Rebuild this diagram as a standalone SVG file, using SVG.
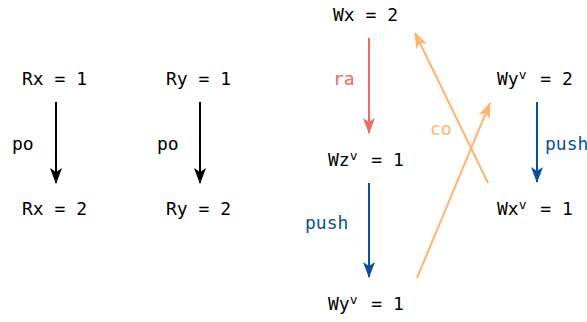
<svg xmlns="http://www.w3.org/2000/svg" width="587" height="322" viewBox="0 0 587 322">
<style>
text{font-family:"DejaVu Sans Mono","Liberation Mono",monospace;font-size:18px;fill:#000}
.red{fill:#ea6b66}.blue{fill:#0c4f9a}.orange{fill:#ffb570}
.e{fill:none;stroke-width:2}
.sup{font-size:13px}
</style>
<defs>
<marker id="ak" viewBox="0 0 16 12" refX="15" refY="6" markerWidth="16" markerHeight="12" markerUnits="userSpaceOnUse" orient="auto"><path d="M0,0 L16,6 L0,12 L4,6 Z" fill="#000"/></marker>
<marker id="ar" viewBox="0 0 16 12" refX="15" refY="6" markerWidth="16" markerHeight="12" markerUnits="userSpaceOnUse" orient="auto"><path d="M0,0 L16,6 L0,12 L4,6 Z" fill="#ea6b66"/></marker>
<marker id="ab" viewBox="0 0 16 12" refX="15" refY="6" markerWidth="16" markerHeight="12" markerUnits="userSpaceOnUse" orient="auto"><path d="M0,0 L16,6 L0,12 L4,6 Z" fill="#0c4f9a"/></marker>
<marker id="ao" viewBox="0 0 16 12" refX="15" refY="6" markerWidth="16" markerHeight="12" markerUnits="userSpaceOnUse" orient="auto"><path d="M0,0 L16,6 L0,12 L4,6 Z" fill="#ffb570"/></marker>
</defs>
<g id="connectors">
<path class="e" stroke="#000" d="M56,102 L56,183" marker-end="url(#ak)"/>
<path class="e" stroke="#000" d="M200,102 L200,183" marker-end="url(#ak)"/>
<path class="e" stroke="#ea6b66" d="M369,38 L369,133" marker-end="url(#ar)"/>
<path class="e" stroke="#0c4f9a" d="M369,183 L369,277" marker-end="url(#ab)"/>
<path class="e" stroke="#0c4f9a" d="M537,102 L537,182" marker-end="url(#ab)"/>
<path class="e" stroke="#ffb570" d="M488,183 L415,33" marker-end="url(#ao)"/>
<path class="e" stroke="#ffb570" d="M417,278 L490,103" marker-end="url(#ao)"/>
<text x="12" y="150">po</text>
<text x="157" y="150">po</text>
<text x="333" y="85" class="red">ra</text>
<text x="305" y="229" class="blue">push</text>
<text x="545" y="150" class="blue">push</text>
<text x="430" y="135" class="orange">co</text>
</g>
<g id="rx1"><text x="22" y="85" xml:space="preserve">Rx = 1</text></g>
<g id="rx2"><text x="22" y="215" xml:space="preserve">Rx = 2</text></g>
<g id="ry1"><text x="166" y="85" xml:space="preserve">Ry = 1</text></g>
<g id="ry2"><text x="166" y="215" xml:space="preserve">Ry = 2</text></g>
<g id="wx2"><text x="333" y="21" xml:space="preserve">Wx = 2</text></g>
<g id="wzv1"><text x="328" y="166" xml:space="preserve">Wz<tspan class="sup" dy="-6">v</tspan><tspan dx="3" dy="6"> = 1</tspan></text></g>
<g id="wyv1"><text x="328" y="310" xml:space="preserve">Wy<tspan class="sup" dy="-6">v</tspan><tspan dx="3" dy="6"> = 1</tspan></text></g>
<g id="wyv2"><text x="497" y="85" xml:space="preserve">Wy<tspan class="sup" dy="-6">v</tspan><tspan dx="3" dy="6"> = 2</tspan></text></g>
<g id="wxv1"><text x="497" y="215" xml:space="preserve">Wx<tspan class="sup" dy="-6">v</tspan><tspan dx="3" dy="6"> = 1</tspan></text></g>
</svg>
